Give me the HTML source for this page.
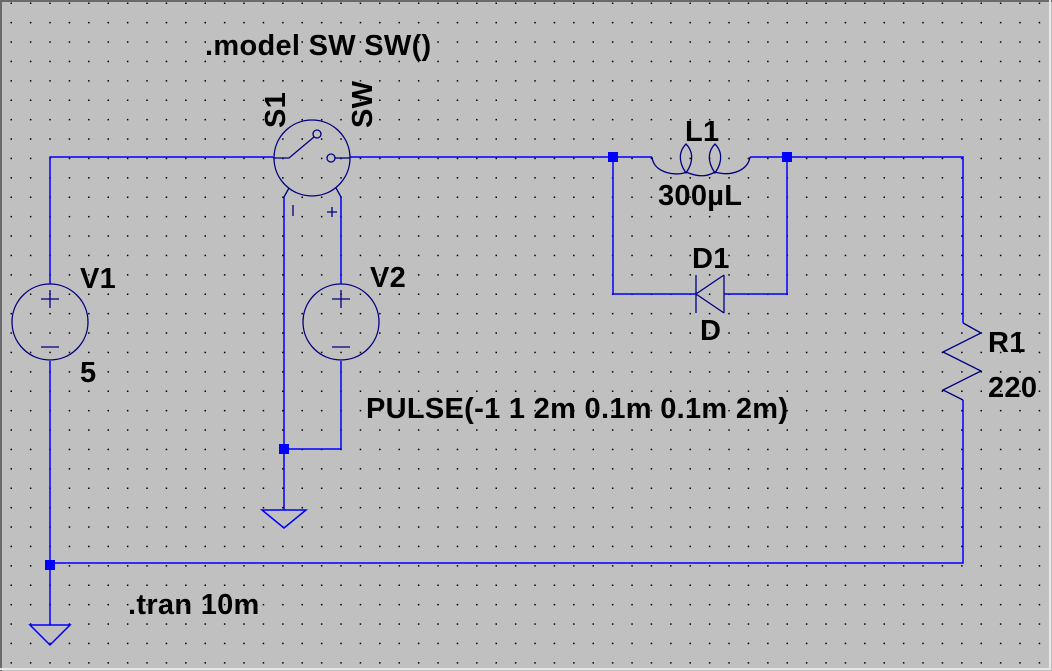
<!DOCTYPE html>
<html><head><meta charset="utf-8"><style>
html,body{margin:0;padding:0;background:#c0c0c0;}
svg{display:block;}
text{font-family:"Liberation Sans",sans-serif;font-weight:bold;font-size:29px;letter-spacing:0.3px;fill:#000;}
</style></head><body>
<svg width="1052" height="671" xmlns="http://www.w3.org/2000/svg">
<defs><pattern id="g" x="10.5" y="2.5" width="19.4" height="19.4" patternUnits="userSpaceOnUse"><rect width="1.5" height="1.5" fill="#000"/></pattern></defs>
<rect width="1052" height="671" fill="#c0c0c0"/>
<rect width="1052" height="671" fill="url(#g)"/>
<path d="M1,671 V1 H1052" stroke="#6a6a6a" stroke-width="2" fill="none"/>
<path d="M1050,0 V669 H0" stroke="#e8e8e8" stroke-width="2" fill="none"/>
<g stroke="#0000ff" stroke-width="1.5" fill="none">
<path d="M50,284 V157 H273"/>
<path d="M350,157 H652"/>
<path d="M750,157 H963 V323"/>
<path d="M963,400 V563 H50"/>
<path d="M50,361 V625"/>
<path d="M284,197 V510"/>
<path d="M341,197 V284"/>
<path d="M341,361 V449 H284"/>
<path d="M613,157 V294 H696"/>
<path d="M787,157 V294 H724"/>
<path d="M30,625 H70 L50,645 Z"/>
<path d="M262,510 H306 L284,528 Z"/>
</g>
<g fill="#0000ff">
<rect x="45" y="560" width="10" height="10"/>
<rect x="279" y="444" width="10" height="10"/>
<rect x="608" y="152" width="10" height="10"/>
<rect x="782" y="152" width="10" height="10"/>
</g>
<g stroke="#000080" stroke-width="1.3" fill="none">
<circle cx="50" cy="322" r="38"/>
<path d="M41,299 H59 M50,290 V308 M41,347 H59"/>
<circle cx="341" cy="322" r="38"/>
<path d="M332,299 H350 M341,290 V308 M332,347 H350"/>
<circle cx="312" cy="158" r="38"/>
<path d="M273,158 H289 L314,137"/>
<circle cx="317" cy="134" r="4"/>
<circle cx="331" cy="158" r="4"/>
<path d="M335,158 H350"/>
<path d="M289,188 L284,197 M336,188 L341,197"/>
<path d="M293,205 V216 M327,212 H337 M332,207 V217"/>
<path d="M652,157 C654,175 680,176 686,172 M686,172 C700,178 708,176 715,172 M715,172 C732,177 748,170 750,157"/>
<path d="M686,173 C677,160 680,150 686,144 C692,150 695,160 686,173 Z"/>
<path d="M715,173 C706,160 709,150 715,144 C721,150 724,160 715,173 Z"/>
<path d="M724,275 V313 M724,275 L696,294 L724,313 M696,275 V313"/>
<path d="M963,323 L981,333 L943,352 L981,371 L943,390 L963,400"/>
</g>
<text x="205" y="55">.model SW SW()</text>
<text transform="translate(285,128) rotate(-90)">S1</text>
<text transform="translate(372,128) rotate(-90)">SW</text>
<text x="685" y="141">L1</text>
<text x="658" y="205">300µL</text>
<text x="692" y="268">D1</text>
<text x="700" y="340">D</text>
<text x="80" y="288">V1</text>
<text x="80" y="382">5</text>
<text x="370" y="287">V2</text>
<text x="366" y="418">PULSE(-1 1 2m 0.1m 0.1m 2m)</text>
<text x="988" y="352">R1</text>
<text x="988" y="397">220</text>
<text x="128" y="614">.tran 10m</text>
</svg>
</body></html>
